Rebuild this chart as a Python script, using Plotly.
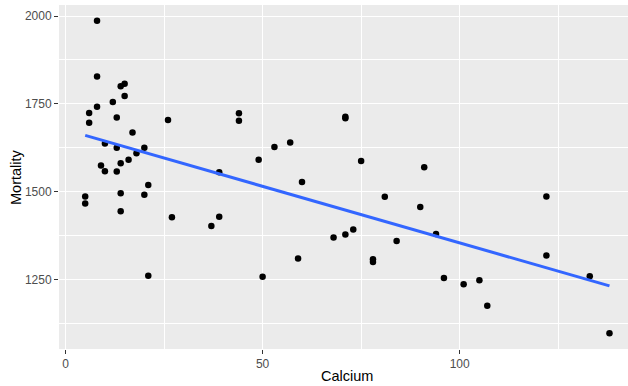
import numpy as np
import plotly.graph_objects as go

# water dataset: calcium (hardness) vs mortality
calcium = [105, 17, 5, 14, 18, 10, 15, 78, 10, 84, 73, 12, 21, 78, 96, 20, 39, 39, 122, 21,
           44, 94, 8, 9, 91, 138, 16, 37, 15, 8, 26, 44, 14, 59, 133, 27, 6, 107, 5, 90,
           6, 101, 13, 14, 49, 8, 14, 68, 50, 75, 71, 13, 57, 71, 13, 20, 60, 53, 122, 81, 71]
mortality = [1247, 1668, 1466, 1800, 1609, 1558, 1807, 1299, 1637, 1359, 1392, 1755, 1519, 1307, 1254,
             1491, 1555, 1428, 1318, 1260, 1723, 1379, 1742, 1574, 1569, 1096, 1591, 1402, 1772, 1828,
             1704, 1702, 1581, 1309, 1259, 1427, 1724, 1175, 1486, 1456, 1696, 1236, 1711, 1444, 1591,
             1987, 1495, 1369, 1257, 1587, 1713, 1557, 1640, 1709, 1625, 1625, 1527, 1627, 1486, 1485, 1378]

x_ticks = [0, 50, 100]
y_ticks = [1250, 1500, 1750, 2000]

x = np.array(calcium, dtype=float)
y = np.array(mortality, dtype=float)
slope, intercept = np.polyfit(x, y, 1)
xs = np.linspace(x.min(), x.max(), 80)
ys = intercept + slope * xs

fig = go.Figure()
fig.add_trace(go.Scatter(x=calcium, y=mortality, mode="markers",
                         marker=dict(color="black", size=6.5, line=dict(width=0)),
                         showlegend=False, hoverinfo="skip", cliponaxis=False))
fig.add_trace(go.Scatter(x=xs, y=ys, mode="lines",
                         line=dict(color="#3366FF", width=3),
                         showlegend=False, hoverinfo="skip"))

font_family = "Liberation Sans, Arial, sans-serif"
xr = [x.min() - 0.05 * (x.max() - x.min()), 142.7]
yr = [y.min() - 0.05 * (y.max() - y.min()), y.max() + 0.05 * (y.max() - y.min())]

L, R, T, B = 59, 0, 5, 37
plot_w = 628 - L - R

fig.update_layout(
    width=628, height=386,
    margin=dict(l=L, r=R, t=T, b=B, autoexpand=False),
    paper_bgcolor="white",
    plot_bgcolor="#EBEBEB",
    font=dict(family=font_family, color="#4D4D4D", size=12),
    xaxis=dict(
        range=xr, tickvals=x_ticks, ticktext=[str(v) for v in x_ticks],
        showgrid=True, gridcolor="white", gridwidth=1.3, zeroline=False,
        ticks="outside", ticklen=4, tickwidth=1, tickcolor="#333333",
        tickfont=dict(size=12, color="#4D4D4D"), automargin=False,
        minor=dict(tickvals=[25, 75, 125], showgrid=True, gridcolor="white", gridwidth=0.6, ticks=""),
        showline=False,
    ),
    yaxis=dict(
        range=yr, tickvals=y_ticks, ticktext=[str(v) for v in y_ticks],
        showgrid=True, gridcolor="white", gridwidth=1.3, zeroline=False,
        ticks="outside", ticklen=4, tickwidth=1, tickcolor="#333333",
        tickfont=dict(size=12, color="#4D4D4D"), automargin=False,
        minor=dict(tickvals=[1125, 1375, 1625, 1875], showgrid=True, gridcolor="white", gridwidth=0.6, ticks=""),
        showline=False,
    ),
    annotations=[
        dict(text="Calcium", xref="paper", yref="paper", x=(347 - L) / plot_w, y=0,
             yshift=-(376 - (386 - B)), xanchor="center", yanchor="middle", showarrow=False,
             font=dict(size=14.5, color="black", family=font_family)),
        dict(text="Mortality", xref="paper", yref="paper", x=0, xshift=16 - L, y=0.5,
             xanchor="center", yanchor="middle", textangle=-90, showarrow=False,
             font=dict(size=14.5, color="black", family=font_family)),
    ],
)

fig.write_html("out.html", config={"displayModeBar": False},
               post_script="document.body.style.margin='0';document.body.style.overflow='hidden';")
